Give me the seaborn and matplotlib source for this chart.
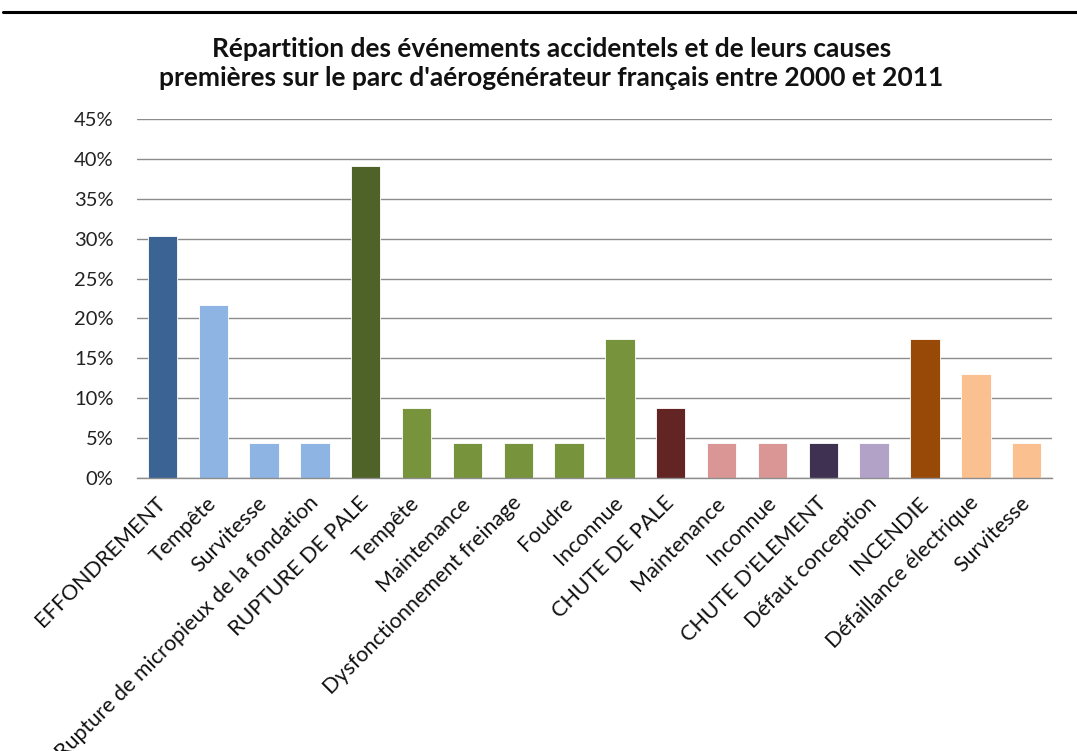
import matplotlib
matplotlib.use("Agg")
import matplotlib.pyplot as plt
import seaborn as sns
import pandas as pd
from matplotlib.ticker import PercentFormatter

# Accident categories and their primary causes
labels = [
    "EFFONDREMENT", "Tempête", "Survitesse", "Rupture de micropieux de la fondation",
    "RUPTURE DE PALE", "Tempête", "Maintenance", "Dysfonctionnement freinage",
    "Foudre", "Inconnue", "CHUTE DE PALE", "Maintenance", "Inconnue",
    "CHUTE D'ELEMENT", "Défaut conception", "INCENDIE", "Défaillance électrique",
    "Survitesse",
]
shares = [30.4, 21.7, 4.35, 4.35, 39.1, 8.7, 4.35, 4.35, 4.35, 17.4,
          8.7, 4.35, 4.35, 4.35, 4.35, 17.4, 13.0, 4.35]
colors = [
    "#3B6495", "#8EB4E3", "#8EB4E3", "#8EB4E3",
    "#4F6228", "#77933C", "#77933C", "#77933C", "#77933C", "#77933C",
    "#632523", "#D99694", "#D99694",
    "#3F3151", "#B3A2C7",
    "#984807", "#FAC090", "#FAC090",
]
title = ("Répartition des événements accidentels et de leurs causes\n"
         "premières sur le parc d'aérogénérateur français entre 2000 et 2011")

df = pd.DataFrame({"pos": [str(i) for i in range(len(labels))],
                   "share": [s / 100 for s in shares]})

sns.set_theme(style="white")
plt.rcParams["font.family"] = ["Lato", "DejaVu Sans"]

fig = plt.figure(figsize=(10.77, 7.51), dpi=100)
ax = fig.add_axes([0.1272, 0.3639, 0.8496, 0.4772])

sns.barplot(data=df, x="pos", y="share", hue="pos", palette=colors,
            legend=False, width=0.58, ax=ax, saturation=1,
            edgecolor="white", linewidth=0.6)

ax.set_ylim(0, 0.45)
ax.set_xlim(-0.5, len(labels) - 0.5)
ax.set_yticks([i * 0.05 for i in range(10)])
ax.yaxis.set_major_formatter(PercentFormatter(1.0, decimals=0))
ax.grid(axis="y", color="#8C8C8C", linewidth=1.0)
ax.set_axisbelow(True)
for s in ["left", "right", "top"]:
    ax.spines[s].set_visible(False)
ax.spines["bottom"].set_color("#8C8C8C")
ax.spines["bottom"].set_linewidth(1.0)
ax.tick_params(axis="y", length=0, pad=17, labelsize=14.5, labelcolor="#222222")
ax.tick_params(axis="x", length=0, pad=16)
ax.set_xticks(range(len(labels)))
ax.set_xticklabels(labels, rotation=45, ha="right", va="center",
                   rotation_mode="anchor", fontsize=15.5, color="#111111")
ax.set_xlabel("")
ax.set_ylabel("")

fig.text(0.512, 0.916, title, ha="center", va="center", fontsize=19,
         fontweight="bold", linespacing=1.25, color="#111111")

# Rule across the top of the page
fig.add_artist(plt.Line2D([0.003, 1.0], [0.984, 0.984], color="black",
                          linewidth=2.2, transform=fig.transFigure))

fig.savefig("out.png", dpi=100, facecolor="white")
